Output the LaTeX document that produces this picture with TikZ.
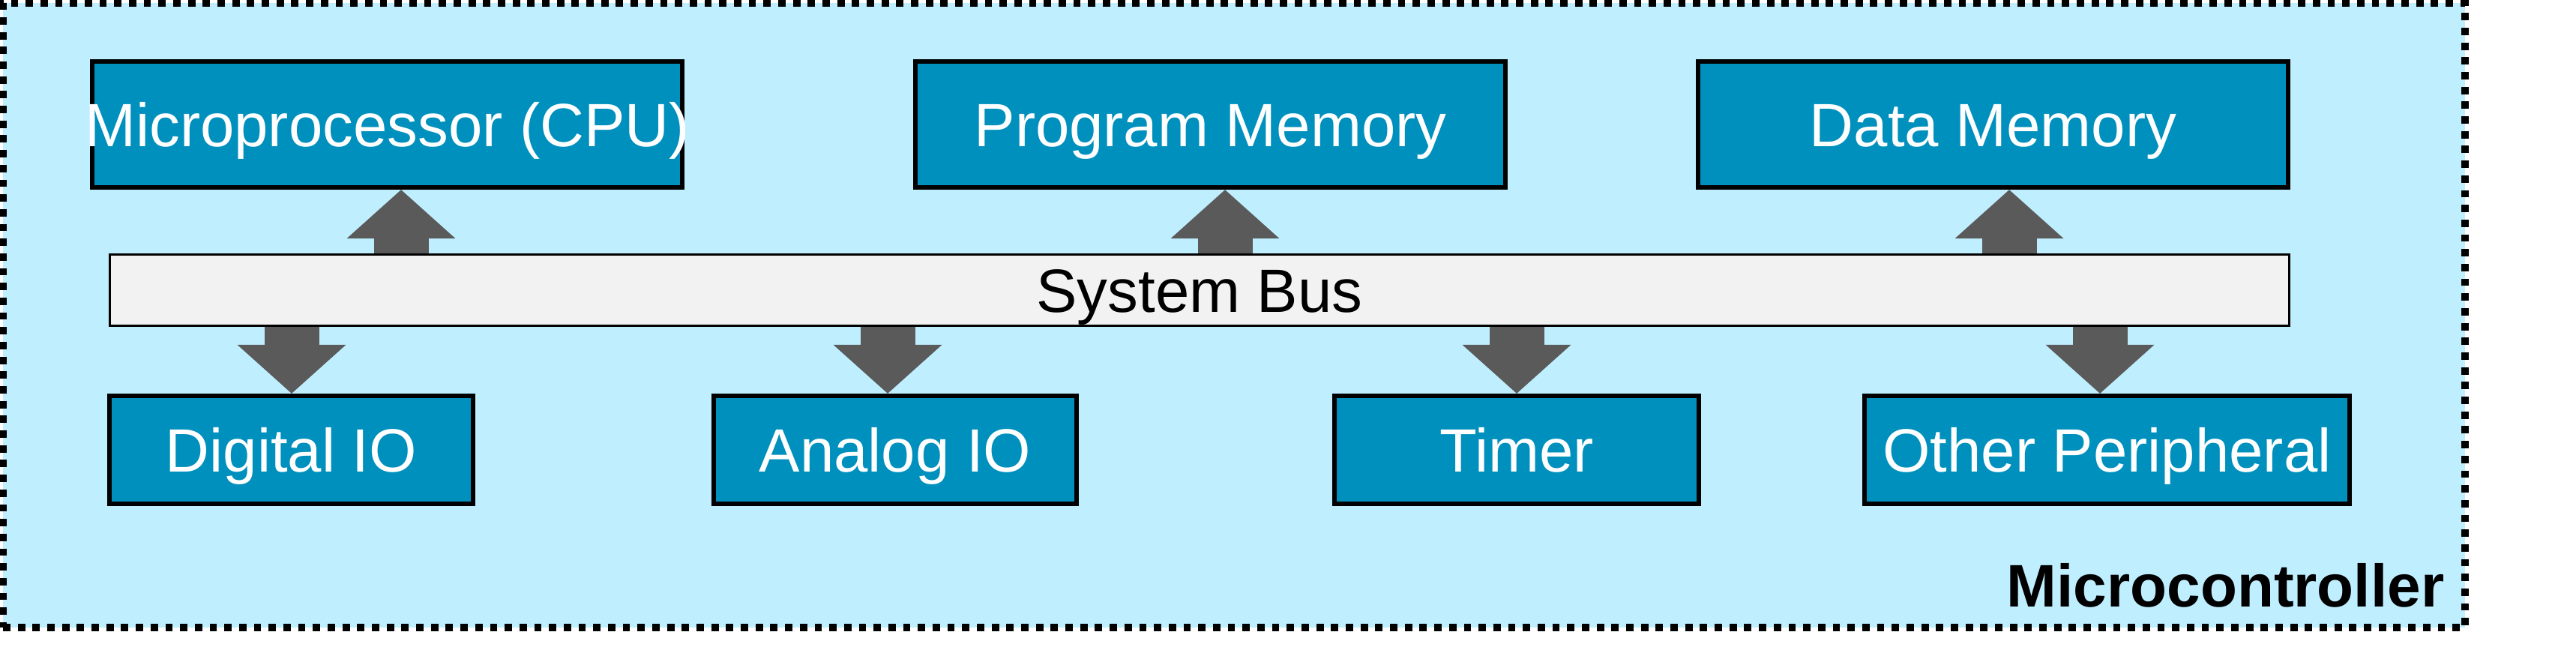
\documentclass[tikz,border=0pt]{standalone}
\usepackage{fontspec}
\setmainfont{Liberation Sans}
\usepackage{tikz}
\usetikzlibrary{arrows.meta}
\usepackage{xcolor}
\definecolor{mcublue}{RGB}{191,239,255}
\definecolor{unitblue}{RGB}{0,144,189}
\definecolor{busgray}{RGB}{242,242,242}
\definecolor{arrowgray}{RGB}{90,90,90}

\begin{document}
\begin{tikzpicture}[font=\fontsize{23.2}{28}\selectfont,
  unit/.style={draw=black,line width=1.8pt,fill=unitblue,text=white,inner sep=0pt,text height=16.6pt,text depth=0pt},
  topunit/.style={unit,minimum width=7.87cm,minimum height=1.68cm},
  lowunit/.style={unit,minimum height=1.44cm},
  busline/.style={draw=arrowgray,line width=7.3mm,-{Triangle[width=14.5mm,length=6.5mm,line width=0pt]}}]
\useasboundingbox (0,0) rectangle (34.36,8.74);
\node[draw=black,fill=mcublue,line width=2.6pt,dash pattern=on 2.8pt off 2.8pt,minimum width=32.84cm,minimum height=8.33cm,inner sep=0pt] (mcu) at (16.46,4.535) {};
\node[anchor=base east,font=\fontsize{22.8}{28}\selectfont\bfseries] (mculabel) at ([xshift=-0.2cm,yshift=0.32cm]mcu.south east) {Microcontroller};
\node[topunit] (cpu) at (5.165,7.08) {\makebox[0pt]{Microprocessor (CPU)}};
\node[topunit] (progmem) at (16.145,7.08) {Program Memory};
\node[topunit] (datamem) at (26.585,7.08) {Data Memory};
\node[draw=black,line width=0.85pt,fill=busgray,minimum width=29.07cm,minimum height=0.95cm,inner sep=0pt,text height=16.6pt,text depth=0pt] (bus) at (16,4.87) {System Bus};
\node[lowunit,minimum width=4.85cm] (digio) at (3.885,2.74) {Digital IO};
\node[lowunit,minimum width=4.84cm] (anaio) at (11.94,2.74) {Analog IO};
\node[lowunit,minimum width=4.86cm] (timer) at (20.23,2.74) {Timer};
\node[lowunit,minimum width=6.47cm] (other) at (28.105,2.74) {Other Peripheral};
\coordinate (cpuport) at (5.35,0);
\coordinate (progport) at (16.34,0);
\coordinate (dataport) at (26.80,0);
\coordinate (digport) at (3.89,0);
\coordinate (anaport) at (11.84,0);
\coordinate (timport) at (20.23,0);
\coordinate (othport) at (28.01,0);
\draw[busline] (bus.north -| cpuport) -- (cpu.south -| cpuport);
\draw[busline] (bus.north -| progport) -- (progmem.south -| progport);
\draw[busline] (bus.north -| dataport) -- (datamem.south -| dataport);
\draw[busline] (bus.south -| digport) -- (digio.north -| digport);
\draw[busline] (bus.south -| anaport) -- (anaio.north -| anaport);
\draw[busline] (bus.south -| timport) -- (timer.north -| timport);
\draw[busline] (bus.south -| othport) -- (other.north -| othport);
\end{tikzpicture}
\end{document}
